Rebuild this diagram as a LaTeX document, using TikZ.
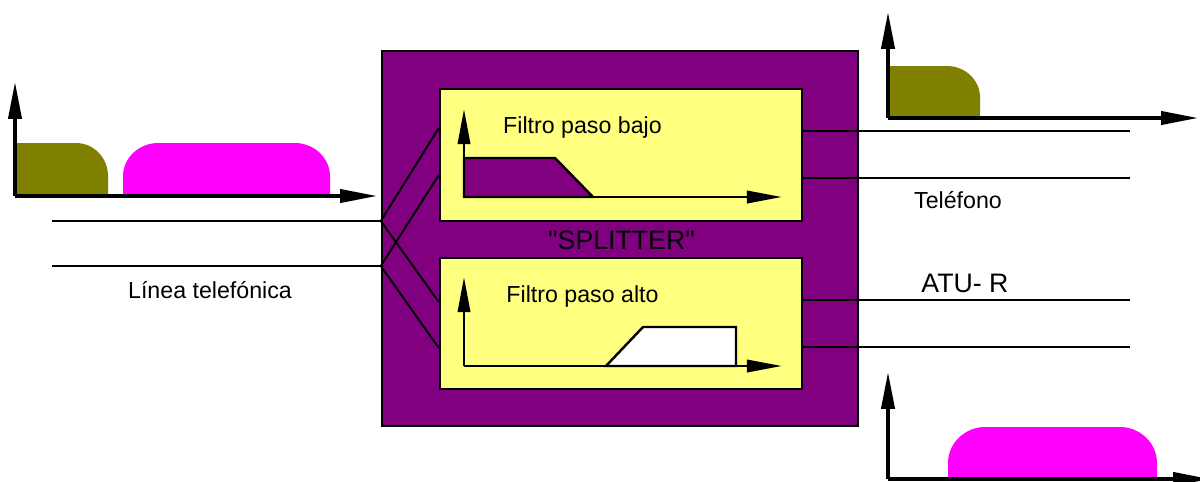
\documentclass[tikz,border=0pt]{standalone}
\usepackage{fontspec}
\setmainfont{Liberation Sans}
\usetikzlibrary{calc,arrows.meta}
\definecolor{splitpurple}{RGB}{128,0,128}
\definecolor{filteryellow}{RGB}{255,255,128}
\definecolor{voiceband}{RGB}{128,128,0}
\definecolor{databand}{RGB}{255,0,255}
% straight double quote, past the TeX ligature mapping
\newcommand\straightquote{\XeTeXglyph\XeTeXcharglyph"22\relax}

\begin{document}
\begin{tikzpicture}[x=0.02cm, y=0.02cm,
  wire/.style={line width=1.1pt},
  axis/.style={line width=1.9pt, -{Triangle[length=21pt,width=7.5pt]}},
  faxis/.style={line width=1.6pt, -{Triangle[length=20pt,width=7pt]}},
  box/.style={draw=black, line width=1.4pt, inner sep=0pt},
  lbl/.style={font=\fontsize{13.2}{15}\selectfont, inner sep=0pt},
  biglbl/.style={font=\fontsize{15.2}{18}\selectfont, inner sep=0pt}]

\clip (0,0) rectangle (1200,-481);

% splitter with its two filters
\node[box, fill=splitpurple, minimum width=9.52cm, minimum height=7.5cm] (splitter) at (620,-238.5) {};
\node[box, fill=filteryellow, minimum width=7.24cm, minimum height=2.64cm] (lowpass) at (621,-155) {};
\node[box, fill=filteryellow, minimum width=7.24cm, minimum height=2.62cm] (highpass) at (621,-323.5) {};

\node[lbl] (lowtxt) at (582.5,-127) {Filtro paso bajo};
\node[lbl] (hightxt) at (582.5,-296) {Filtro paso alto};
\node[biglbl] (name) at (621.5,-240) {\straightquote SPLITTER\straightquote};

% line in
\coordinate (la) at (52,-221);
\coordinate (lb) at (52,-266);
\draw[wire] (la) -- (la -| splitter.west);
\draw[wire] (lb) -- (lb -| splitter.west);

\draw[wire] (la -| splitter.west) -- ($(lowpass.west) + (0, 27)$);
\draw[wire] (la -| splitter.west) -- ($(highpass.west) + (0, 21.5)$);
\draw[wire] (lb -| splitter.west) -- ($(lowpass.west) + (0, -20)$);
\draw[wire] (lb -| splitter.west) -- ($(highpass.west) + (0, -24.5)$);

\node[lbl] (linea) at (210,-290) {Línea telefónica};

% lines out
\coordinate (ra) at (1130,-131);
\coordinate (rb) at (1130,-178);
\coordinate (rc) at (1130,-300);
\coordinate (rd) at (1130,-347);
\draw[wire] (ra -| lowpass.east) -- (ra);
\draw[wire] (rb -| lowpass.east) -- (rb);
\draw[wire] (rc -| highpass.east) -- (rc);
\draw[wire] (rd -| highpass.east) -- (rd);

\node[lbl] (telefono) at (958,-200) {Teléfono};
\node[biglbl] (atu) at (965,-283) {ATU- R};

% filter responses
\coordinate (lo) at (464,-197);
\coordinate (ho) at (464,-366);
\draw[line width=1.4pt, fill=splitpurple] (lo) -- (464,-158) -- (555,-158) -- (593,-197) -- cycle;
\draw[line width=1.4pt, fill=white] (606,-366) -- (643,-327) -- (736,-327) -- (736,-366) -- cycle;
\draw[faxis] (lo) -- (464,-109);
\draw[faxis] (lo) -- (782,-197);
\draw[faxis] (ho) -- (464,-277);
\draw[faxis] (ho) -- (782,-366);

% spectrum on the line
\coordinate (so) at (15,-196);
\fill[voiceband] (17,-196) -- (17,-143) -- (76,-143) .. controls (94,-143) and (108,-158) .. (108,-176) -- (108,-196) -- cycle;
\fill[databand] (123,-196) -- (123,-176) .. controls (123,-158) and (139,-143) .. (158,-143) -- (295,-143) .. controls (314,-143) and (330,-158) .. (330,-176) -- (330,-196) -- cycle;
\draw[axis] (so) -- (15,-82);
\draw[axis] (so) -- (377,-196);

% spectrum to the phone
\coordinate (to) at (888,-118);
\fill[voiceband] (888,-118) -- (888,-66) -- (947,-66) .. controls (965,-66) and (980,-80) .. (980,-97) -- (980,-118) -- cycle;
\draw[axis] (to) -- (888,-12);
\draw[axis] (to) -- (1198,-118);

% spectrum to the modem
\coordinate (mo) at (888,-479);
\fill[databand] (948,-479) -- (948,-463) .. controls (948,-443) and (965,-427) .. (985,-427) -- (1120,-427) .. controls (1140,-427) and (1157,-443) .. (1157,-463) -- (1157,-479) -- cycle;
\draw[axis] (mo) -- (888,-372);
\draw[axis] (mo) -- (1210,-479);

\end{tikzpicture}
\end{document}
